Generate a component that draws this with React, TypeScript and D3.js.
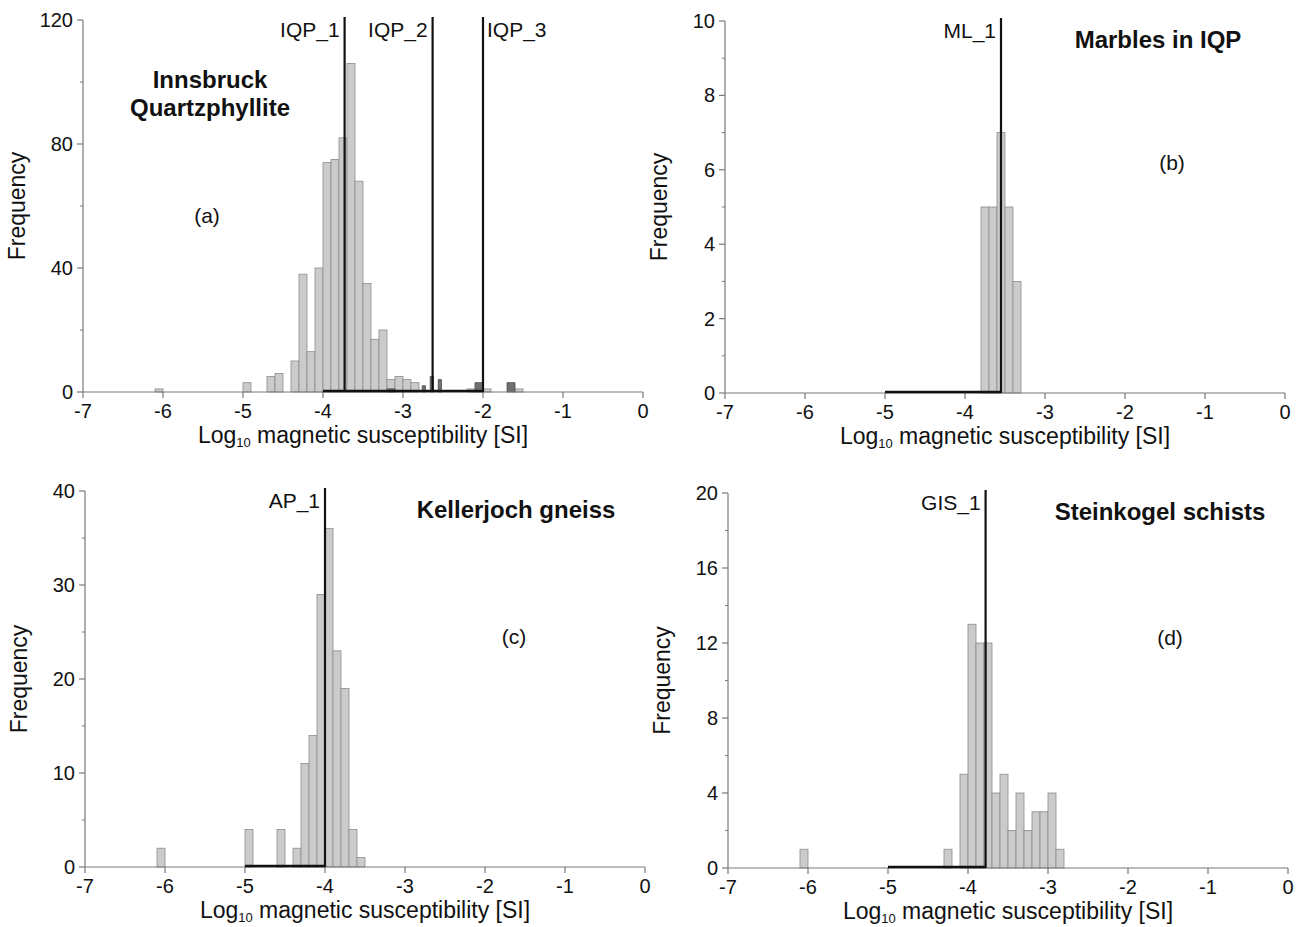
import React, { useEffect, useRef } from 'react';
import * as d3 from 'd3';

// histogram bins are 0.1 log units wide
const BIN = 0.1;

const aStarts = [-6.1, -5.0, -4.7, -4.6, -4.4, -4.3, -4.2, -4.1, -4.0, -3.9, -3.8, -3.7, -3.6, -3.5, -3.4, -3.3, -3.2, -3.1, -3.0, -2.9, -2.2, -2.0, -1.6];
const aCounts = [1, 3, 5, 6, 10, 38, 13, 40, 74, 75, 82, 106, 68, 35, 17, 20, 4, 5, 4, 3, 1, 1, 1];
// second (darker) group in panel a, some bins are narrow
const aDarkFrom = [-3.2, -2.76, -2.66, -2.56, -2.1, -1.7];
const aDarkTo = [-3.1, -2.72, -2.62, -2.52, -2.0, -1.6];
const aDarkCounts = [1, 2, 5, 4, 3, 3];

const bStarts = [-3.8, -3.7, -3.6, -3.5, -3.4];
const bCounts = [5, 5, 7, 5, 3];

const cStarts = [-6.1, -5.0, -4.6, -4.4, -4.3, -4.2, -4.1, -4.0, -3.9, -3.8, -3.7, -3.6];
const cCounts = [2, 4, 4, 2, 11, 14, 29, 36, 23, 19, 4, 1];

const dStarts = [-6.1, -4.3, -4.1, -4.0, -3.9, -3.8, -3.7, -3.6, -3.5, -3.4, -3.3, -3.2, -3.1, -3.0, -2.9];
const dCounts = [1, 1, 5, 13, 12, 12, 4, 5, 2, 4, 2, 3, 3, 4, 1];

const xTicks = [-7, -6, -5, -4, -3, -2, -1, 0];

type Marker = { name: string; at: number; side: 'left' | 'right' };

const panels = [
  {
    key: 'a', left: 83, right: 643, top: 20, bottom: 392, yMax: 120, yMajor: [0, 40, 80, 120], yMinor: [20, 60, 100],
    starts: aStarts, counts: aCounts, dark: true,
    markers: [
      { name: 'IQP_1', at: -3.73, side: 'left' },
      { name: 'IQP_2', at: -2.63, side: 'left' },
      { name: 'IQP_3', at: -2.0, side: 'right' },
    ] as Marker[],
    range: [-4, -2],
    title: ['Innsbruck', 'Quartzphyllite'], titleX: 210, titleY: 88,
    tag: '(a)', tagX: 207, tagY: 223,
  },
  {
    key: 'b', left: 725, right: 1285, top: 21, bottom: 393, yMax: 10, yMajor: [0, 2, 4, 6, 8, 10], yMinor: [1, 3, 5, 7, 9],
    starts: bStarts, counts: bCounts, dark: false,
    markers: [{ name: 'ML_1', at: -3.55, side: 'left' }] as Marker[],
    range: [-5, -3.55],
    title: ['Marbles in IQP'], titleX: 1158, titleY: 48,
    tag: '(b)', tagX: 1172, tagY: 170,
  },
  {
    key: 'c', left: 85, right: 645, top: 491, bottom: 867, yMax: 40, yMajor: [0, 10, 20, 30, 40], yMinor: [5, 15, 25, 35],
    starts: cStarts, counts: cCounts, dark: false,
    markers: [{ name: 'AP_1', at: -4.0, side: 'left' }] as Marker[],
    range: [-5, -4],
    title: ['Kellerjoch gneiss'], titleX: 516, titleY: 518,
    tag: '(c)', tagX: 514, tagY: 644,
  },
  {
    key: 'd', left: 728, right: 1288, top: 493, bottom: 868, yMax: 20, yMajor: [0, 4, 8, 12, 16, 20], yMinor: [2, 6, 10, 14, 18],
    starts: dStarts, counts: dCounts, dark: false,
    markers: [{ name: 'GIS_1', at: -3.78, side: 'left' }] as Marker[],
    range: [-5, -3.78],
    title: ['Steinkogel schists'], titleX: 1160, titleY: 520,
    tag: '(d)', tagX: 1170, tagY: 645,
  },
];

const FONT = 'Arial, "Liberation Sans", sans-serif';
const AXIS = '#7a7a7a';

export default function App() {
  const svgRef = useRef<SVGSVGElement | null>(null);

  useEffect(() => {
    const svg = d3.select(svgRef.current);
    svg.selectAll('*').remove();

    panels.forEach(p => {
      const x = d3.scaleLinear().domain([-7, 0]).range([p.left, p.right]);
      const y = d3.scaleLinear().domain([0, p.yMax]).range([p.bottom, p.top]);
      const g = svg.append('g').attr('class', `panel-${p.key}`);

      // light bars
      const bins = p.starts.map((s, i) => ({ x0: s, x1: s + BIN, n: p.counts[i] }));
      g.selectAll('rect.light').data(bins).join('rect').attr('class', 'light')
        .attr('x', d => x(d.x0)).attr('width', d => x(d.x1) - x(d.x0))
        .attr('y', d => y(d.n)).attr('height', d => y(0) - y(d.n))
        .attr('fill', '#cbcbcb').attr('stroke', '#8c8c8c').attr('stroke-width', 0.8);

      if (p.dark) {
        const dk = aDarkFrom.map((s, i) => ({ x0: s, x1: aDarkTo[i], n: aDarkCounts[i] }));
        g.selectAll('rect.dark').data(dk).join('rect').attr('class', 'dark')
          .attr('x', d => x(d.x0)).attr('width', d => x(d.x1) - x(d.x0))
          .attr('y', d => y(d.n)).attr('height', d => y(0) - y(d.n))
          .attr('fill', '#6f6f6f').attr('stroke', '#505050').attr('stroke-width', 0.8);
      }

      // x axis
      g.append('line').attr('x1', x(-7)).attr('x2', x(0)).attr('y1', y(0)).attr('y2', y(0))
        .attr('stroke', AXIS).attr('stroke-width', 1.2);
      xTicks.forEach(t => {
        g.append('line').attr('x1', x(t)).attr('x2', x(t)).attr('y1', y(0)).attr('y2', y(0) + 6)
          .attr('stroke', AXIS).attr('stroke-width', 1.2);
        g.append('text').attr('x', x(t)).attr('y', y(0) + 26).attr('text-anchor', 'middle')
          .attr('font-family', FONT).attr('font-size', 20).attr('fill', '#111').text(String(t));
      });

      // y axis
      g.append('line').attr('x1', p.left).attr('x2', p.left).attr('y1', y(0)).attr('y2', y(p.yMax))
        .attr('stroke', AXIS).attr('stroke-width', 1.2);
      p.yMajor.forEach(t => {
        g.append('line').attr('x1', p.left - 6).attr('x2', p.left).attr('y1', y(t)).attr('y2', y(t))
          .attr('stroke', AXIS).attr('stroke-width', 1.2);
        g.append('text').attr('x', p.left - 10).attr('y', y(t) + 7).attr('text-anchor', 'end')
          .attr('font-family', FONT).attr('font-size', 20).attr('fill', '#111').text(String(t));
      });
      p.yMinor.forEach(t => {
        g.append('line').attr('x1', p.left - 3).attr('x2', p.left).attr('y1', y(t)).attr('y2', y(t))
          .attr('stroke', AXIS).attr('stroke-width', 1);
      });

      // range bar along the base
      g.append('line').attr('x1', x(p.range[0])).attr('x2', x(p.range[1]))
        .attr('y1', y(0) - 1).attr('y2', y(0) - 1).attr('stroke', '#111').attr('stroke-width', 2.5);

      // markers
      p.markers.forEach(m => {
        g.append('line').attr('x1', x(m.at)).attr('x2', x(m.at)).attr('y1', p.top - 3).attr('y2', y(0))
          .attr('stroke', '#111').attr('stroke-width', 2.2);
        g.append('text')
          .attr('x', m.side === 'left' ? x(m.at) - 5 : x(m.at) + 4)
          .attr('y', p.top + 17)
          .attr('text-anchor', m.side === 'left' ? 'end' : 'start')
          .attr('font-family', FONT).attr('font-size', 21).attr('fill', '#111').text(m.name);
      });

      // axis titles
      const xt = g.append('text').attr('x', (p.left + p.right) / 2).attr('y', y(0) + 51)
        .attr('text-anchor', 'middle').attr('font-family', FONT).attr('font-size', 23).attr('fill', '#111');
      xt.append('tspan').text('Log');
      xt.append('tspan').attr('font-size', 13).attr('dy', 4).text('10');
      xt.append('tspan').attr('dy', -4).text(' magnetic susceptibility [SI]');

      g.append('text').attr('transform', `translate(${p.left - 58},${(p.top + p.bottom) / 2}) rotate(-90)`)
        .attr('text-anchor', 'middle').attr('font-family', FONT).attr('font-size', 23).attr('fill', '#111')
        .text('Frequency');

      // panel title and tag
      p.title.forEach((line, i) => {
        g.append('text').attr('x', p.titleX).attr('y', p.titleY + i * 28).attr('text-anchor', 'middle')
          .attr('font-family', FONT).attr('font-size', 24).attr('font-weight', 'bold').attr('fill', '#111')
          .text(line);
      });
      g.append('text').attr('x', p.tagX).attr('y', p.tagY).attr('text-anchor', 'middle')
        .attr('font-family', FONT).attr('font-size', 21).attr('fill', '#111').text(p.tag);
    });
  }, []);

  return (
    <div style={{ position: 'absolute', left: 0, top: 0, width: 1302, height: 927, background: '#fff' }}>
      <svg ref={svgRef} width={1302} height={927} style={{ display: 'block' }} />
    </div>
  );
}
